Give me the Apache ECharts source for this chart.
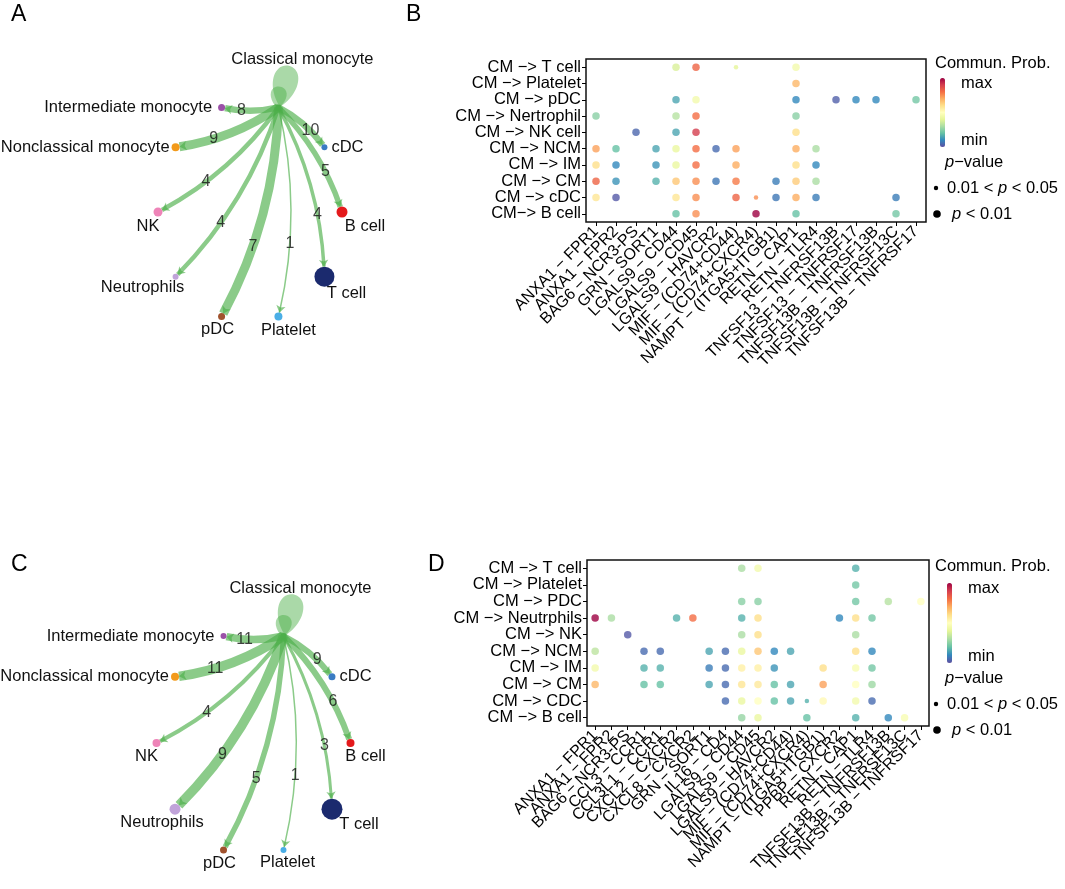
<!DOCTYPE html>
<html><head><meta charset="utf-8">
<script src="https://cdn.jsdelivr.net/npm/echarts@6/dist/echarts.min.js"></script>
<style>html,body{margin:0;padding:0;background:#fff}#c{width:1065px;height:889px}</style>
</head><body><div id="c"></div>
<script>
const FONT = '"Liberation Sans", Arial, Helvetica, sans-serif';

// ---------------- network panels (A, C) ----------------
// nodes in clockwise order around the circle, starting with the sender
const netNodes = ['Classical monocyte','cDC','B cell','T cell','Platelet','pDC','Neutrophils','NK','Nonclassical monocyte','Intermediate monocyte'];
const netColors = ['#4daf4a','#3a7cc3','#e41a1c','#1b2a6e','#4aaee6','#a0522d','#c0a3d9','#ee84b8','#f29a1b','#9b51a8'];
// number of interactions Classical monocyte -> node (edge labels)
const countsA = [null,10,5,4,1,7,4,4,9,8];
const countsC = [null,9,6,3,1,5,9,4,11,11];
// interaction strength (edge weight)
const weightA = [null,6.5,5.5,3.5,1.5,9,4.5,4.5,9,6.5];
const weightC = [null,6,6,3,1.5,5.5,9.5,4,9.5,7.5];
// node size (cell number)
const nodeSizeA = [6,6,11,20,8,7,6,9,8,7];
const nodeSizeC = [6,7,8,21,6,7,11,8,8,6];

// ---------------- bubble panels (B, D) ----------------
const yB = ['CM −> T cell','CM −> Platelet','CM −> pDC','CM −> Nertrophil','CM −> NK cell','CM −> NCM','CM −> IM','CM −> CM','CM −> cDC','CM−> B cell'];
const xB = ['ANXA1 − FPR1','ANXA1 − FPR2','BAG6 − NCR3-PS','GRN − SORT1','LGALS9 − CD44','LGALS9 − CD45','LGALS9 − HAVCR2','MIF − (CD74+CD44)','MIF − (CD74+CXCR4)','NAMPT − (ITGA5+ITGB1)','RETN − CAP1','RETN − TLR4','TNFSF13 − TNFRSF13B','TNFSF13 − TNFRSF17','TNFSF13B − TNFRSF13B','TNFSF13B − TNFRSF13C','TNFSF13B − TNFRSF17'];
const n = null;
const probB = [
  [n,n,n,n,.38,.82,n,.40,n,n,.45,n,n,n,n,n,n],
  [n,n,n,n,n,n,n,n,n,n,.68,n,n,n,n,n,n],
  [n,n,n,n,.15,.45,n,n,n,n,.10,n,.03,.10,.10,n,.22],
  [.25,n,n,n,.32,.80,n,n,n,n,.25,n,n,n,n,n,n],
  [n,n,.04,n,.15,.90,n,n,n,n,.60,n,n,n,n,n,n],
  [.72,.20,n,.15,.42,.80,.05,.72,n,n,.70,.30,n,n,n,n,n],
  [.60,.10,n,.12,.42,.80,n,.70,n,n,.60,.10,n,n,n,n,n],
  [.82,.12,n,.17,.65,.75,.07,.78,n,.08,.64,.30,n,n,n,n,n],
  [.58,.02,n,n,.58,.75,n,.82,.75,.07,.70,.08,n,n,n,.08,n],
  [n,n,n,n,.20,.75,n,n,1.0,n,.20,n,n,n,n,.22,n]
];
const smallB = [[0,7],[8,8]]; // [row, col] with 0.01 < p < 0.05

const yD = ['CM −> T cell','CM −> Platelet','CM −> PDC','CM −> Neutrphils','CM −> NK','CM −> NCM','CM −> IM','CM −> CM','CM −> CDC','CM −> B cell'];
const xD = ['ANXA1 − FPR1','ANXA1 − FPR2','BAG6 − NCR3-PS','CCL3 − CCR1','CCL3L1 − CCR1','CXCL2 − CXCR2','CXCL8 − CXCR2','GRN − SORT1','IL16 − CD4','LGALS9 − CD44','LGALS9 − CD45','LGALS9 − HAVCR2','MIF − (CD74+CD44)','MIF − (CD74+CXCR4)','NAMPT − (ITGA5+ITGB1)','PPBP − CXCR2','RETN − CAP1','RETN − TLR4','TNFSF13B − TNFRSF13B','TNFSF13B − TNFRSF13C','TNFSF13B − TNFRSF17'];
const probD = [
  [n,n,n,n,n,n,n,n,n,.30,.45,n,n,n,n,n,.17,n,n,n,n],
  [n,n,n,n,n,n,n,n,n,n,n,n,n,n,n,n,.22,n,n,n,n],
  [n,n,n,n,n,n,n,n,n,.25,.25,n,n,n,n,n,.22,n,.32,n,.50],
  [1.0,.30,n,n,n,.17,.80,n,n,.17,.60,n,n,n,n,.10,.60,.22,n,n,n],
  [n,n,.02,n,n,n,n,n,n,.30,.60,n,n,n,n,n,.30,n,n,n,n],
  [.33,n,n,.05,.05,n,n,.15,.05,.42,.65,.10,.15,n,n,n,.60,.10,n,n,n],
  [.45,n,n,.17,.17,n,n,.08,.05,.55,.55,.12,n,n,.60,n,.47,.22,n,n,n],
  [.68,n,n,.20,.20,n,n,.15,.05,.58,.57,.20,.15,n,.72,n,.50,.28,n,n,n],
  [n,n,n,n,n,n,n,n,.05,.42,.50,.20,.15,.17,.52,n,.45,.05,n,n,n],
  [n,n,n,n,n,n,n,n,n,.27,.42,n,n,.20,n,n,.17,n,.10,.47,n]
];
const smallD = [[8,13]];

const spectral = ['#5e4fa2','#3288bd','#66c2a5','#abdda4','#e6f598','#ffffbf','#fee08b','#fdae61','#f46d43','#d53e4f','#9e0142'];

// ---------------- helpers ----------------
const gridsNet = [
  {left:158, top:102, width:184, height:220},
  {left:156.5, top:630.5, width:194, height:225}
];
const CURV = 0.12;
function nodePos(i){ const a=(-72+36*i)*Math.PI/180; return [Math.cos(a), Math.sin(a)]; }

const labA = [
  {position:'top', distance:36, offset:[24,0]},
  {position:'right', distance:4},
  {position:'bottom', distance:2, offset:[23,-2]},
  {position:'bottom', distance:0, offset:[22,-2]},
  {position:'bottom', distance:2, offset:[10,-1]},
  {position:'bottom', distance:2, offset:[-4,-1]},
  {position:'bottom', distance:0, offset:[-33,-1]},
  {position:'bottom', distance:2, offset:[-10,-1]},
  {position:'left', distance:2},
  {position:'left', distance:6}
];
const labC = [
  {position:'top', distance:36, offset:[17,0]},
  {position:'right', distance:4},
  {position:'bottom', distance:2, offset:[15,-1]},
  {position:'bottom', distance:0, offset:[27,-4]},
  {position:'bottom', distance:2, offset:[4,-1]},
  {position:'bottom', distance:2, offset:[-4,-1]},
  {position:'bottom', distance:0, offset:[-13,-1]},
  {position:'bottom', distance:2, offset:[-10,-1]},
  {position:'left', distance:2},
  {position:'left', distance:6}
];

function netSeries(gi, counts, weights, sizes, labs){
  const g = gridsNet[gi];
  const sx = g.width/2, sy = g.height/2;
  const nodes = netNodes.map((name,i)=>({
    name, value: nodePos(i), symbolSize: sizes[i],
    itemStyle:{color: netColors[i]},
    label: Object.assign({show:true}, labs[i])
  }));
  const links = [];
  const labelPts = [];
  const p1 = nodePos(0);
  for (let i=1;i<netNodes.length;i++){
    links.push({source: netNodes[0], target: netNodes[i], lineStyle:{width: weights[i]}});
    // label position at t=0.65 along the curved edge (pixel space -> data space)
    const p2 = nodePos(i);
    const P1=[p1[0]*sx,p1[1]*sy], P2=[p2[0]*sx,p2[1]*sy];
    const cp=[(P1[0]+P2[0])/2-(P1[1]-P2[1])*CURV, (P1[1]+P2[1])/2-(P2[0]-P1[0])*CURV];
    const t=0.65, a=(1-t)*(1-t), b=2*t*(1-t), c=t*t;
    const q=[a*P1[0]+b*cp[0]+c*P2[0], a*P1[1]+b*cp[1]+c*P2[1]];
    labelPts.push({value:[q[0]/sx, q[1]/sy], txt: String(counts[i])});
  }
  return [
    { // self loops of the sender
      type:'scatter', xAxisIndex:gi, yAxisIndex:gi, z:1, silent:true,
      data:[{value:p1, symbolSize:[25,42], symbolOffset:[6,-21], symbolRotate:-12},
            {value:p1, symbolSize:[16,22], symbolOffset:[0,-10], symbolRotate:-5}],
      symbol:'path://M50,100 C10,70 0,30 20,10 C35,-5 65,-5 80,10 C100,30 90,70 50,100 Z',
      symbolKeepAspect:false,
      itemStyle:{color:'rgba(77,175,74,0.6)'}
    },
    {
      type:'graph', coordinateSystem:'cartesian2d', xAxisIndex:gi, yAxisIndex:gi, layout:'none', z:2,
      data:nodes, links,
      edgeSymbol:['none','arrow'], edgeSymbolSize:[0,7],
      lineStyle:{color:'#4daf4a', opacity:0.65, curveness:CURV},
      label:{fontFamily:FONT, fontSize:16.5, color:'#111'},
      emphasis:{disabled:true}, silent:true, animation:false
    },
    {
      type:'scatter', xAxisIndex:gi, yAxisIndex:gi, z:3, silent:true,
      data:labelPts, symbolSize:1, itemStyle:{color:'rgba(0,0,0,0)'},
      label:{show:true, position:'inside', formatter:p=>p.data.txt, fontFamily:FONT, fontSize:16, color:'#111'}
    }
  ];
}

function dotData(mat, small){
  const out=[];
  mat.forEach((row,r)=>row.forEach((v,c)=>{
    if (v!==null) out.push([c, r, v, small.some(s=>s[0]===r&&s[1]===c)?1:0]);
  }));
  return out;
}

function dotAxes(gi, xs, ys){
  const tick = {show:true, length:4, alignWithLabel:true, interval:0, lineStyle:{color:'#000', width:1}};
  return {
    x: {
      type:'category', gridIndex:gi, data:xs, boundaryGap:true, position:'bottom',
      axisLine:{show:false, onZero:false}, splitLine:{show:false}, axisTick:tick,
      axisLabel:{interval:0, rotate:45, margin:7, hideOverlap:false,
                 fontFamily:FONT, fontSize:16, color:'#000'}
    },
    y: {
      type:'category', gridIndex:gi, data:ys, boundaryGap:true, inverse:true, position:'left',
      axisLine:{show:false, onZero:false}, splitLine:{show:false}, axisTick:tick,
      axisLabel:{interval:0, margin:5, hideOverlap:false,
                 fontFamily:FONT, fontSize:16.5, color:'#000'}
    }
  };
}
const axB = dotAxes(2, xB, yB), axD = dotAxes(3, xD, yD);
const hiddenAx = gi => ({type:'value', gridIndex:gi, min:-1, max:1, show:false});

const series = [].concat(
  netSeries(0, countsA, weightA, nodeSizeA, labA),
  netSeries(1, countsC, weightC, nodeSizeC, labC),
  [
    {type:'scatter', xAxisIndex:2, yAxisIndex:2, data:dotData(probB, smallB), symbolSize:d=>d[3]?4.5:7.5, silent:true},
    {type:'scatter', xAxisIndex:3, yAxisIndex:3, data:dotData(probD, smallD), symbolSize:d=>d[3]?4.5:7.5, silent:true}
  ]
);
const idxB = series.length-2, idxD = series.length-1;

function legendGraphics(x0, y0, barTop, barH, barX){
  const F = '16.5px '+FONT, FI = 'italic 16.5px '+FONT;
  const t = (text, x, y, extra) => ({type:'text', silent:true, style:Object.assign({text, x, y, font:F, fill:'#000', verticalAlign:'middle'}, extra||{})});
  return [
    t('Commun. Prob.', x0, y0),
    t('max', barX+21, barTop+5),
    t('min', barX+21, barTop+barH-7),
    t('{i|p}−value', x0+10, barTop+barH+15, {rich:{i:{font:FI}}}),
    {type:'circle', silent:true, shape:{cx:x0+1, cy:barTop+barH+41, r:2.2}, style:{fill:'#000'}},
    t('0.01 < {i|p} < 0.05', x0+12, barTop+barH+41, {rich:{i:{font:FI}}}),
    {type:'circle', silent:true, shape:{cx:x0+2, cy:barTop+barH+67, r:3.8}, style:{fill:'#000'}},
    t('{i|p} < 0.01', x0+17, barTop+barH+67, {rich:{i:{font:FI}}})
  ];
}
const letter = (s,x,y)=>({type:'text', silent:true, style:{text:s, x, y, font:'23px '+FONT, fill:'#000'}});

const option = {
  animation:false,
  backgroundColor:'#fff',
  grid:[
    Object.assign({show:false}, gridsNet[0]),
    Object.assign({show:false}, gridsNet[1]),
    {left:586, top:59, width:340, height:163, show:true, borderColor:'#111', borderWidth:1.5, backgroundColor:'transparent'},
    {left:587, top:560, width:342, height:166, show:true, borderColor:'#111', borderWidth:1.5, backgroundColor:'transparent'}
  ],
  xAxis:[hiddenAx(0), hiddenAx(1), axB.x, axD.x],
  yAxis:[Object.assign(hiddenAx(0),{inverse:true}), Object.assign(hiddenAx(1),{inverse:true}), axB.y, axD.y],
  visualMap:[
    {type:'continuous', seriesIndex:idxB, dimension:2, min:0, max:1, inRange:{color:spectral},
     left:940, top:78, itemWidth:5, itemHeight:69, padding:0, calculable:false, hoverLink:false},
    {type:'continuous', seriesIndex:idxD, dimension:2, min:0, max:1, inRange:{color:spectral},
     left:947, top:583, itemWidth:5, itemHeight:80, padding:0, calculable:false, hoverLink:false}
  ],
  graphic:[].concat(
    legendGraphics(935, 63, 78, 69, 940),
    legendGraphics(935, 566, 583, 80, 947),
    [letter('A',11,3), letter('B',406,3), letter('C',11,553), letter('D',428,553)]
  ),
  series
};
const chart = echarts.init(document.getElementById('c'), null, {renderer:'canvas'});
chart.setOption(option);
</script></body></html>
